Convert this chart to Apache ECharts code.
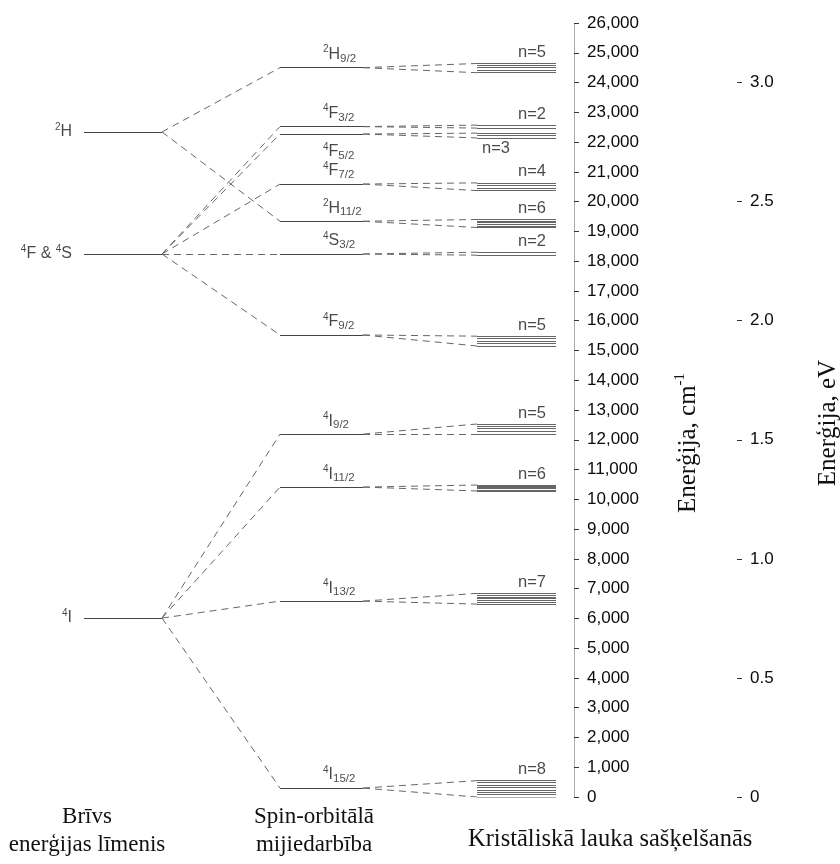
<!DOCTYPE html>
<html><head><meta charset="utf-8">
<script src="https://cdn.jsdelivr.net/npm/echarts@6/dist/echarts.min.js"></script>
<style>html,body{margin:0;padding:0;background:#fff}#c{width:840px;height:864px}</style>
</head><body><div id="c"></div>
<script>
// ---------- DATA ----------
// Free-ion terms: pairs of [superscript, letter] parts
const freeTerms = [[['2', 'H']], [['4', 'F & '], ['4', 'S']], [['4', 'I']]];
const freeEnergy = [22340, 18240, 6010];            // cm^-1

// Spin-orbit levels
const soSup = ['2', '4', '4', '4', '2', '4', '4', '4', '4', '4', '4'];
const soLetter = ['H', 'F', 'F', 'F', 'H', 'S', 'F', 'I', 'I', 'I', 'I'];
const soSub = ['9/2', '3/2', '5/2', '7/2', '11/2', '3/2', '9/2', '9/2', '11/2', '13/2', '15/2'];
const soEnergy = [24500, 22520, 22270, 20590, 19340, 18240, 15520, 12190, 10410, 6580, 300];
const soParent = [0, 1, 1, 1, 0, 1, 1, 2, 2, 2, 2];   // index into free-ion terms

// Crystal-field (Stark) sub-levels, cm^-1
const stark_2H9 = [24640, 24580, 24510, 24420, 24330];
const stark_4F3 = [22570, 22470];
const stark_4F5 = [22300, 22220, 22140];
const stark_4F7 = [20630, 20540, 20460, 20370];
const stark_2H11 = [19400, 19350, 19300, 19240, 19180, 19130];
const stark_4S3 = [18300, 18200];
const stark_4F9 = [15480, 15400, 15320, 15230, 15150];
const stark_4I9 = [12530, 12460, 12380, 12280, 12200];
const stark_4I11 = [10480, 10440, 10400, 10360, 10320, 10280];
const stark_4I13 = [6840, 6780, 6720, 6660, 6600, 6540, 6480];
const stark_4I15 = [550, 480, 400, 320, 240, 160, 80, 0];
const starkLevels = [stark_2H9, stark_4F3, stark_4F5, stark_4F7, stark_2H11, stark_4S3,
                     stark_4F9, stark_4I9, stark_4I11, stark_4I13, stark_4I15];

// Axes
const cmMin = 0, cmMax = 26000, cmStep = 1000;
const eVMin = 0, eVMax = 3.25;
const eVTicks = [0, 0.5, 1.0, 1.5, 2.0, 2.5, 3.0];
const cmName = 'Enerģija, cm';
const eVName = 'Enerģija, eV';
const colTitles = ['Brīvs\nenerģijas līmenis', 'Spin-orbitālā\nmijiedarbība', 'Kristāliskā lauka sašķelšanās'];

// ---------- LAYOUT (x in axis units) ----------
const X_MAX = 574;
const COL = { free: [84, 162], so: [280, 363], cf: [477, 556] };
const FREE_LABEL_GAP = 12;
const SO_LABEL_X = 323;
const N_LABEL_X = 546;
const LEVEL_COLOR = '#444';
const DASH_COLOR = '#666';
const BAND_COLOR = '#666';
const SANS = 'Liberation Sans, Arial, sans-serif';
const SERIF = 'Liberation Serif, Times New Roman, serif';

const rich = {
  m: { fontSize: 16, fontFamily: SANS, color: '#1a1a1a', lineHeight: 20, verticalAlign: 'middle' },
  sup: { fontSize: 10, fontFamily: SANS, color: '#1a1a1a', lineHeight: 10, verticalAlign: 'top' },
  sub: { fontSize: 11.5, fontFamily: SANS, color: '#1a1a1a', lineHeight: 12, verticalAlign: 'bottom' },
  n: { fontSize: 16.5, fontFamily: SANS, color: '#1a1a1a', lineHeight: 20 }
};

// ---------- BUILD SERIES ----------
const seg = (x0, y0, x1, y1) => ({ coords: [[x0, y0], [x1, y1]] });

const freeSolid = freeEnergy.map(e => seg(COL.free[0], e, COL.free[1], e));
const soSolid = soEnergy.map(e => seg(COL.so[0], e, COL.so[1], e));
const freeToSo = soEnergy.map((e, j) => seg(COL.free[1], freeEnergy[soParent[j]], COL.so[0], e));
const soToCf = [];
soEnergy.forEach((e, j) => {
  const b = starkLevels[j];
  soToCf.push(seg(COL.so[1], e, COL.cf[0], Math.max(...b)));
  soToCf.push(seg(COL.so[1], e, COL.cf[0], Math.min(...b)));
});
const bands = [];
starkLevels.forEach(b => b.forEach(e => bands.push(seg(COL.cf[0], e, COL.cf[1], e))));

// labels
const labelData = [];
freeEnergy.forEach((e, i) => {
  labelData.push({
    value: [COL.free[0] - FREE_LABEL_GAP, e],
    label: {
      formatter: freeTerms[i].map(p => '{sup|' + p[0] + '}{m|' + p[1] + '}').join(''),
      align: 'right', verticalAlign: 'middle'
    }
  });
});
soEnergy.forEach((e, j) => {
  const below = (soLetter[j] === 'F' && soSub[j] === '5/2');
  labelData.push({
    value: [SO_LABEL_X, e],
    label: {
      formatter: '{sup|' + soSup[j] + '}{m|' + soLetter[j] + '}{sub|' + soSub[j] + '}',
      align: 'left', verticalAlign: 'middle', offset: [0, below ? 18 : -13]
    }
  });
});
starkLevels.forEach((b, j) => {
  const below = (soLetter[j] === 'F' && soSub[j] === '5/2');
  labelData.push({
    value: below ? [COL.cf[0] + 5, Math.min(...b)] : [N_LABEL_X, Math.max(...b)],
    label: {
      formatter: '{n|n=' + b.length + '}',
      align: below ? 'left' : 'right', verticalAlign: 'middle', offset: [0, below ? 11 : -11]
    }
  });
});

const linesBase = { type: 'lines', coordinateSystem: 'cartesian2d', silent: true, animation: false, polyline: false };

const titleStyle = (t, lh, size) => ({ text: t, font: size + 'px ' + SERIF, fill: '#111', align: 'center', textAlign: 'center', verticalAlign: 'top', lineHeight: lh });

const option = {
  animation: false,
  backgroundColor: '#fff',
  grid: { left: 0, width: X_MAX, top: 23, bottom: 67, containLabel: false, outerBoundsMode: 'none' },
  xAxis: { type: 'value', min: 0, max: X_MAX, show: false },
  yAxis: [
    {
      type: 'value', min: cmMin, max: cmMax, interval: cmStep, position: 'right',
      axisLine: { show: true, onZero: false, lineStyle: { color: '#9a9a9a', type: 'dotted', width: 1 } },
      axisTick: { show: true, length: 5, lineStyle: { color: '#333' } },
      splitLine: { show: false },
      axisLabel: { margin: 13, fontSize: 17, fontFamily: SANS, color: '#0a0a0a',
        formatter: v => String(v).replace(/\B(?=(\d{3})+(?!\d))/g, ',') },
      name: '{a|' + cmName + '}{s|-1}', nameLocation: 'middle', nameRotate: 90, nameGap: 99,
      nameTextStyle: { padding: [0, 66, 0, 0], rich: {
        a: { fontSize: 25, fontFamily: SERIF, color: '#111', lineHeight: 28, verticalAlign: 'bottom' },
        s: { fontSize: 15, fontFamily: SERIF, color: '#111', lineHeight: 28, verticalAlign: 'top' } } }
    },
    {
      type: 'value', min: eVMin, max: eVMax, position: 'right', offset: 163,
      axisLine: { show: false, onZero: false },
      axisTick: { show: true, length: 5, lineStyle: { color: '#333' }, customValues: eVTicks },
      splitLine: { show: false },
      axisLabel: { margin: 13, fontSize: 17, fontFamily: SANS, color: '#0a0a0a', customValues: eVTicks,
        formatter: v => (v === 0 ? '0' : v.toFixed(1)) },
      name: eVName, nameLocation: 'middle', nameRotate: 90, nameGap: 79,
      nameTextStyle: { fontSize: 25, fontFamily: SERIF, color: '#111', padding: [0, 26, 0, 0] }
    }
  ],
  graphic: [
    { type: 'text', x: 87, y: 803, style: titleStyle(colTitles[0], 28, 23) },
    { type: 'text', x: 314, y: 803, style: titleStyle(colTitles[1], 28, 23) },
    { type: 'text', x: 468, y: 826, style: Object.assign(titleStyle(colTitles[2], 28, 24.5), { align: 'left', textAlign: 'left' }) }
  ],
  series: [
    Object.assign({}, linesBase, { name: 'free', data: freeSolid, lineStyle: { color: LEVEL_COLOR, width: 1.2, opacity: 1 } }),
    Object.assign({}, linesBase, { name: 'so', data: soSolid, lineStyle: { color: LEVEL_COLOR, width: 1.2, opacity: 1 } }),
    Object.assign({}, linesBase, { name: 'freeToSo', data: freeToSo, lineStyle: { color: DASH_COLOR, width: 1, type: [7, 5], opacity: 1 } }),
    Object.assign({}, linesBase, { name: 'soToCf', data: soToCf, lineStyle: { color: DASH_COLOR, width: 1, type: [7, 5], opacity: 1 } }),
    Object.assign({}, linesBase, { name: 'bands', data: bands, lineStyle: { color: BAND_COLOR, width: 1, opacity: 1 } }),
    {
      type: 'scatter', name: 'labels', symbolSize: 0, silent: true, animation: false, data: labelData,
      label: { show: true, position: 'inside', rich: rich }
    }
  ]
};

echarts.init(document.getElementById('c'), null, { renderer: 'canvas' }).setOption(option);
</script>
</body></html>
